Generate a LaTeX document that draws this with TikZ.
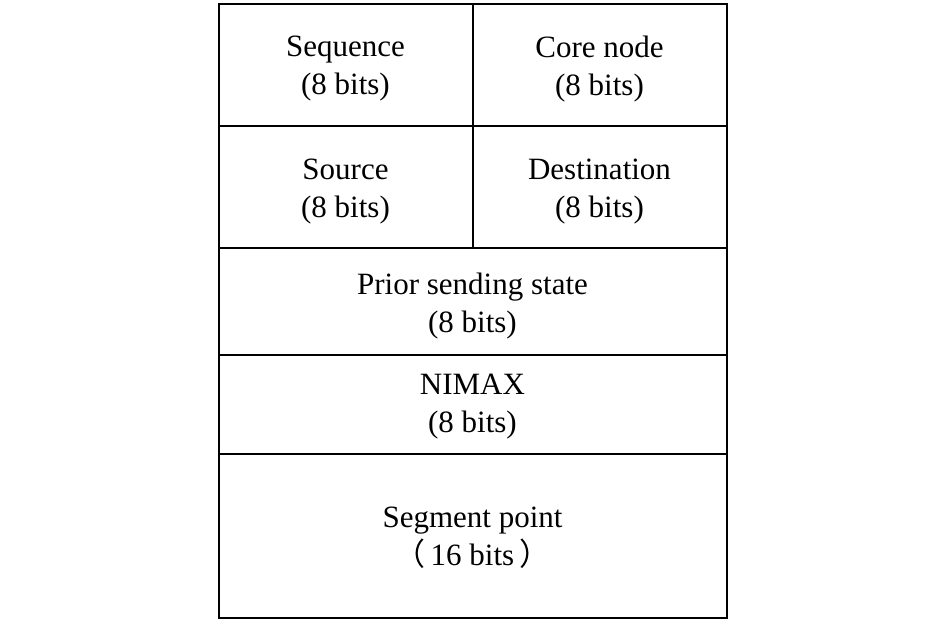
\documentclass[tikz,border=0pt]{standalone}
\usepackage{fontspec}
\setmainfont{Liberation Serif}
\newfontfamily\cjk{Noto Sans CJK SC}
\begin{document}
\begin{tikzpicture}[x=1pt,y=-1pt,
  lbl/.style={font=\fontsize{31}{38}\selectfont,align=center}]
\useasboundingbox (0,0) rectangle (945,622);
\draw[line width=2pt] (218.5,3.5) rectangle (726.5,617.5);
\draw[line width=2pt] (472.5,3.5) -- (472.5,248);
\draw[line width=2pt] (218.5,125.5) -- (726.5,125.5);
\draw[line width=2pt] (218.5,248) -- (726.5,248);
\draw[line width=2pt] (218.5,355) -- (726.5,355);
\draw[line width=2pt] (218.5,454) -- (726.5,454);
\node[lbl] (seq) at (345.5,69) {Sequence\\(8 bits)};
\node[lbl] (core) at (599.5,69) {Core node\\(8 bits)};
\node[lbl] (src) at (345.5,192) {Source\\(8 bits)};
\node[lbl] (dst) at (599.5,192) {Destination\\(8 bits)};
\node[lbl] (prior) at (472.5,306) {Prior sending state\\(8 bits)};
\node[lbl] (nimax) at (472.5,407) {NIMAX\\(8 bits)};
\node[lbl] (seg) at (472.5,538) {Segment point\\{\cjk（}\hspace{5pt}16 bits\hspace{5pt}{\cjk）}};
\end{tikzpicture}
\end{document}
